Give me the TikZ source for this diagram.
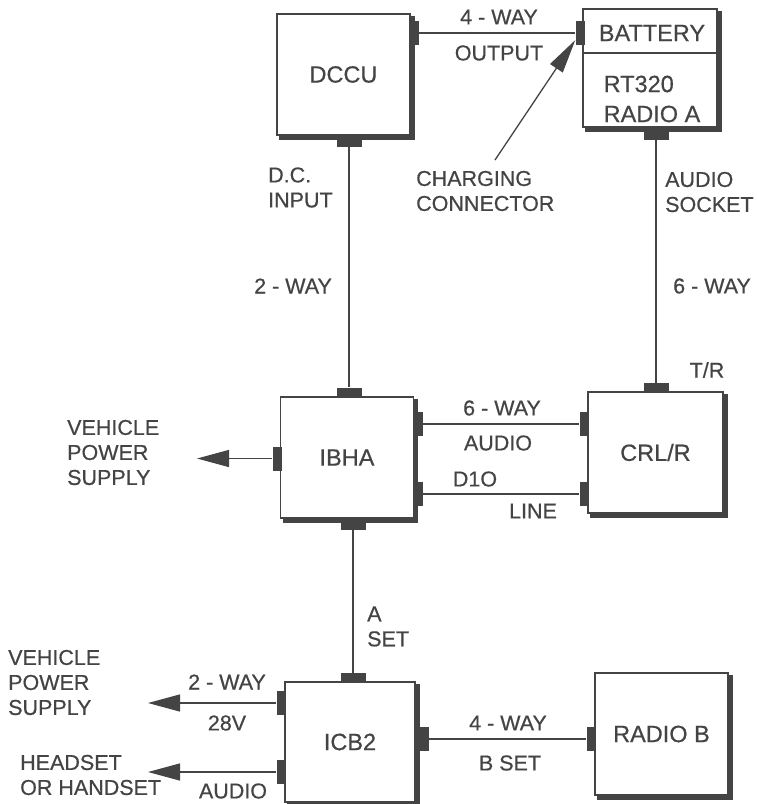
\documentclass[tikz,border=0pt]{standalone}
\usepackage{fontspec}
\setmainfont{Liberation Sans}[FakeBold=0.5]
\usepackage{xcolor}
\usetikzlibrary{arrows.meta}
\definecolor{ink}{HTML}{444444}

\begin{document}
\begin{tikzpicture}[
    x=1pt, y=-1pt,
    every node/.style={text=ink, font=\fontsize{21.5}{25}\selectfont, inner sep=0pt},
    unit/.style={draw=ink, line width=1.6pt, fill=white, minimum width=133pt, minimum height=121pt, font=\fontsize{23.5}{30}\selectfont},
    drop/.style={draw=ink, line width=4pt, line join=miter},
    plugv/.style={fill=ink, minimum width=9pt, minimum height=24pt},
    plugh/.style={fill=ink, minimum width=25pt, minimum height=9pt},
    wire/.style={draw=ink, line width=1.3pt},
    feed/.style={wire, -{Triangle[length=32pt,width=17pt]}},
    pointer/.style={wire, -{Triangle[length=34pt,width=15pt]}},
    lbl/.style={align=left}
  ]
  \useasboundingbox[fill=white] (0,0) rectangle (756,804);

  \node[unit] (dccu) at (343.5,74.5) {DCCU};
  \node[unit, minimum width=134pt, minimum height=118pt] (batt) at (650,68) {};
  \node[unit] (ibha) at (347,457.5) {IBHA};
  \node[unit, minimum width=135pt] (crlr) at (655.5,452.5) {CRL/R};
  \node[unit, minimum width=130pt, minimum height=120pt] (icb) at (350,742) {ICB2};
  \node[unit, minimum height=122pt] (radb) at (661.5,734) {RADIO B};

  \foreach \b in {dccu,batt,ibha,crlr,icb,radb}
    \draw[drop] ([shift={(2,3)}]\b.north east) -- ([shift={(2,2)}]\b.south east) -- ([shift={(3,2)}]\b.south west);

  \coordinate (bsplit) at (583,53);
  \draw[draw=ink, line width=1.6pt] (bsplit) -- (bsplit -| batt.east);
  \node[font=\fontsize{23.5}{30}\selectfont] (battlbl) at (652,33) {BATTERY};
  \node[lbl, font=\fontsize{23.5}{30}\selectfont] (rtlbl) at (652,99) {RT320\\RADIO A};

  \node[plugv] (dccuR) at (414.5,33) {};
  \node[plugv] (battL) at (580,33) {};
  \node[plugh] (dccuB) at (349,142) {};
  \node[plugh] (battB) at (656,135.5) {};
  \node[plugh] (ibhaT) at (349,392) {};
  \node[plugh] (crlrT) at (656,387.5) {};
  \node[plugh] (ibhaB) at (353,525.5) {};
  \node[plugh] (icbT) at (353,677.5) {};
  \node[plugv] (ibhaL) at (277,458.5) {};
  \node[plugv] (ibhaR1) at (418,424) {};
  \node[plugv] (ibhaR2) at (418,494) {};
  \node[plugv] (crlrL1) at (584,424) {};
  \node[plugv] (crlrL2) at (584,494) {};
  \node[plugv] (icbL1) at (281,703) {};
  \node[plugv] (icbL2) at (281,772) {};
  \node[plugv, minimum width=12pt] (icbR) at (423,739) {};
  \node[plugv] (radbL) at (591,739) {};

  \coordinate (vps1) at (197,458.5);
  \coordinate (vps2) at (148,703);
  \coordinate (hset) at (148,772);
  \coordinate (chg) at (495,160);

  \draw[wire] (dccuR) -- (battL);
  \draw[wire] (dccuB) -- (ibhaT);
  \draw[wire] (battB) -- (crlrT);
  \draw[wire] (ibhaR1) -- (crlrL1);
  \draw[wire] (ibhaR2) -- (crlrL2);
  \draw[wire] (ibhaB) -- (icbT);
  \draw[wire] (icbR) -- (radbL);
  \draw[feed] (ibhaL) -- (vps1);
  \draw[feed] (icbL1) -- (vps2);
  \draw[feed] (icbL2) -- (hset);
  \draw[pointer] (chg) -- (battL);

  \node (w4top) at (499,17) {4 - WAY};
  \node (outlbl) at (499,53) {OUTPUT};
  \node[lbl, anchor=west] (chglbl) at (416,191) {CHARGING\\CONNECTOR};
  \node[lbl, anchor=west] (dclbl) at (268,187.5) {D.C.\\INPUT};
  \node[lbl, anchor=west] (socklbl) at (665,192) {AUDIO\\SOCKET};
  \node (w2) at (293,286) {2 - WAY};
  \node[anchor=west] (w6r) at (673,286) {6 - WAY};
  \node (trlbl) at (707,370) {T/R};
  \node (w6m) at (502,408) {6 - WAY};
  \node (audm) at (498,443) {AUDIO};
  \node (d1o) at (475,479) {D1O};
  \node (linelbl) at (533,511) {LINE};
  \node[lbl, anchor=west] (vps1lbl) at (67,452.5) {VEHICLE\\POWER\\SUPPLY};
  \node[lbl, anchor=west] (aset) at (367,626.5) {A\\SET};
  \node[lbl, anchor=west] (vps2lbl) at (8,682.5) {VEHICLE\\POWER\\SUPPLY};
  \node (w2b) at (227,682) {2 - WAY};
  \node (v28) at (227,723) {28V};
  \node[lbl, anchor=west] (hslbl) at (20,775) {HEADSET\\OR HANDSET};
  \node (audb) at (233,791) {AUDIO};
  \node (w4b) at (508,723) {4 - WAY};
  \node (bset) at (510,763) {B SET};
\end{tikzpicture}
\end{document}
